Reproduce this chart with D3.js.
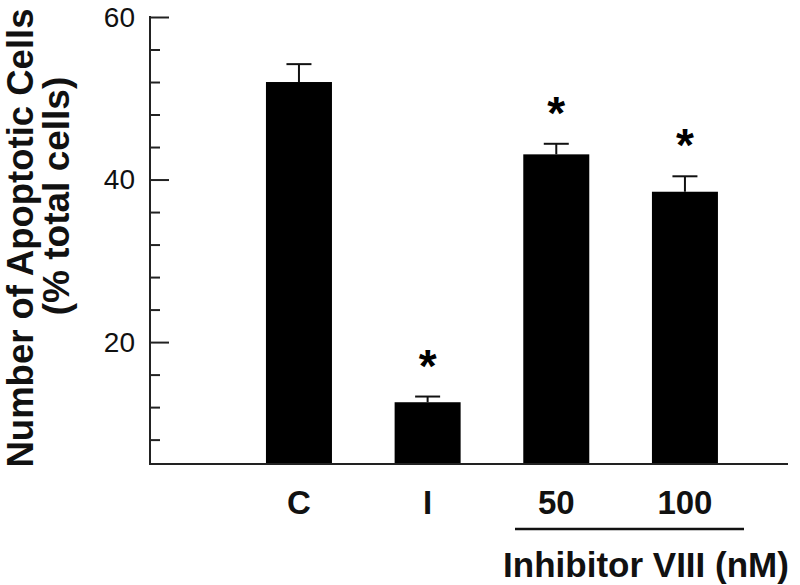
<!DOCTYPE html>
<html><head><meta charset="utf-8">
<script src="https://cdn.jsdelivr.net/npm/d3@7"></script>
<style>body{margin:0;background:#fff}svg{display:block}text{font-family:"Liberation Sans",Arial,sans-serif}</style>
</head><body><svg id="c" width="800" height="585"></svg>
<script>
const categories = ["C", "I", "50", "100"];
const values = [52.0, 12.6, 43.1, 38.5];
const errors = [2.2, 0.7, 1.3, 1.9];
const significant = [false, true, true, true];
const majorTicks = [20, 40, 60];
const minorTicks = [8, 12, 16, 24, 28, 32, 36, 44, 48, 52, 56];
const yTitle = ["Number of Apoptotic Cells", "(% total cells)"];
const groupLabel = "Inhibitor VIII (nM)";
const groupMembers = ["50", "100"];

const svg = d3.select("#c");
const y = d3.scaleLinear().domain([5, 60]).range([464, 17]);
const x = d3.scaleBand().domain(categories).range([203.3, 780.6]).paddingInner(0.487).paddingOuter(0.487);
const axisX = 150, axisRight = 788;

// bars
svg.selectAll("rect.bar").data(categories).enter().append("rect")
  .attr("x", d => x(d)).attr("width", x.bandwidth())
  .attr("y", (d,i) => y(values[i])).attr("height", (d,i) => y.range()[0] - y(values[i]))
  .attr("fill", "#000");

// error bars
const eb = svg.append("g").attr("stroke", "#111").attr("stroke-width", 2).attr("fill", "none");
categories.forEach((c,i) => {
  const cx = x(c) + x.bandwidth()/2;
  eb.append("line").attr("x1", cx).attr("x2", cx).attr("y1", y(values[i])).attr("y2", y(values[i]+errors[i]));
  eb.append("line").attr("x1", cx-12.5).attr("x2", cx+12.5).attr("y1", y(values[i]+errors[i])).attr("y2", y(values[i]+errors[i]));
  if (significant[i]) {
    svg.append("text").attr("x", cx).attr("y", y(values[i]+errors[i]) - 15)
      .attr("text-anchor", "middle").attr("font-size", 46).attr("font-weight", "bold").text("*");
  }
});

// axes
const yAxisMajor = d3.axisRight(y).tickValues(majorTicks).tickSize(19).tickFormat("");
const gy = svg.append("g").attr("transform", `translate(${axisX},0)`).call(yAxisMajor);
gy.select(".domain").remove();
gy.selectAll("line").attr("stroke", "#222").attr("stroke-width", 2);
const yAxisMinor = d3.axisRight(y).tickValues(minorTicks).tickSize(10).tickFormat("");
const gm = svg.append("g").attr("transform", `translate(${axisX},0)`).call(yAxisMinor);
gm.select(".domain").remove();
gm.selectAll("line").attr("stroke", "#222").attr("stroke-width", 2);

svg.append("line").attr("x1", axisX).attr("x2", axisX).attr("y1", y(60)-1).attr("y2", y(5)+1)
  .attr("stroke", "#222").attr("stroke-width", 2);
svg.append("line").attr("x1", axisX).attr("x2", axisRight).attr("y1", y(5)).attr("y2", y(5))
  .attr("stroke", "#222").attr("stroke-width", 2);

// tick labels
svg.selectAll("text.tl").data(majorTicks).enter().append("text")
  .attr("x", 135).attr("y", d => y(d)).attr("dy", "0.35em").attr("text-anchor", "end")
  .attr("font-size", 28).attr("fill", "#111").text(d => d);

// category labels
svg.selectAll("text.cl").data(categories).enter().append("text")
  .attr("x", d => x(d) + x.bandwidth()/2).attr("y", 514).attr("text-anchor", "middle")
  .attr("font-size", 33).attr("font-weight", "bold").attr("fill", "#111").text(d => d);

// group underline and label
svg.append("line").attr("x1", 515).attr("x2", 744).attr("y1", 529).attr("y2", 529)
  .attr("stroke", "#111").attr("stroke-width", 2.5);
svg.append("text").attr("x", 646).attr("y", 577).attr("text-anchor", "middle")
  .attr("font-size", 35).attr("font-weight", "bold").attr("fill", "#111").text(groupLabel);

// y title
svg.append("text").attr("transform", "translate(33,238) rotate(-90)").attr("text-anchor", "middle")
  .attr("font-size", 36.5).attr("font-weight", "bold").attr("fill", "#111").text(yTitle[0]);
svg.append("text").attr("transform", "translate(69,196) rotate(-90)").attr("text-anchor", "middle")
  .attr("font-size", 37).attr("font-weight", "bold").attr("fill", "#111").text(yTitle[1]);
</script></body></html>
